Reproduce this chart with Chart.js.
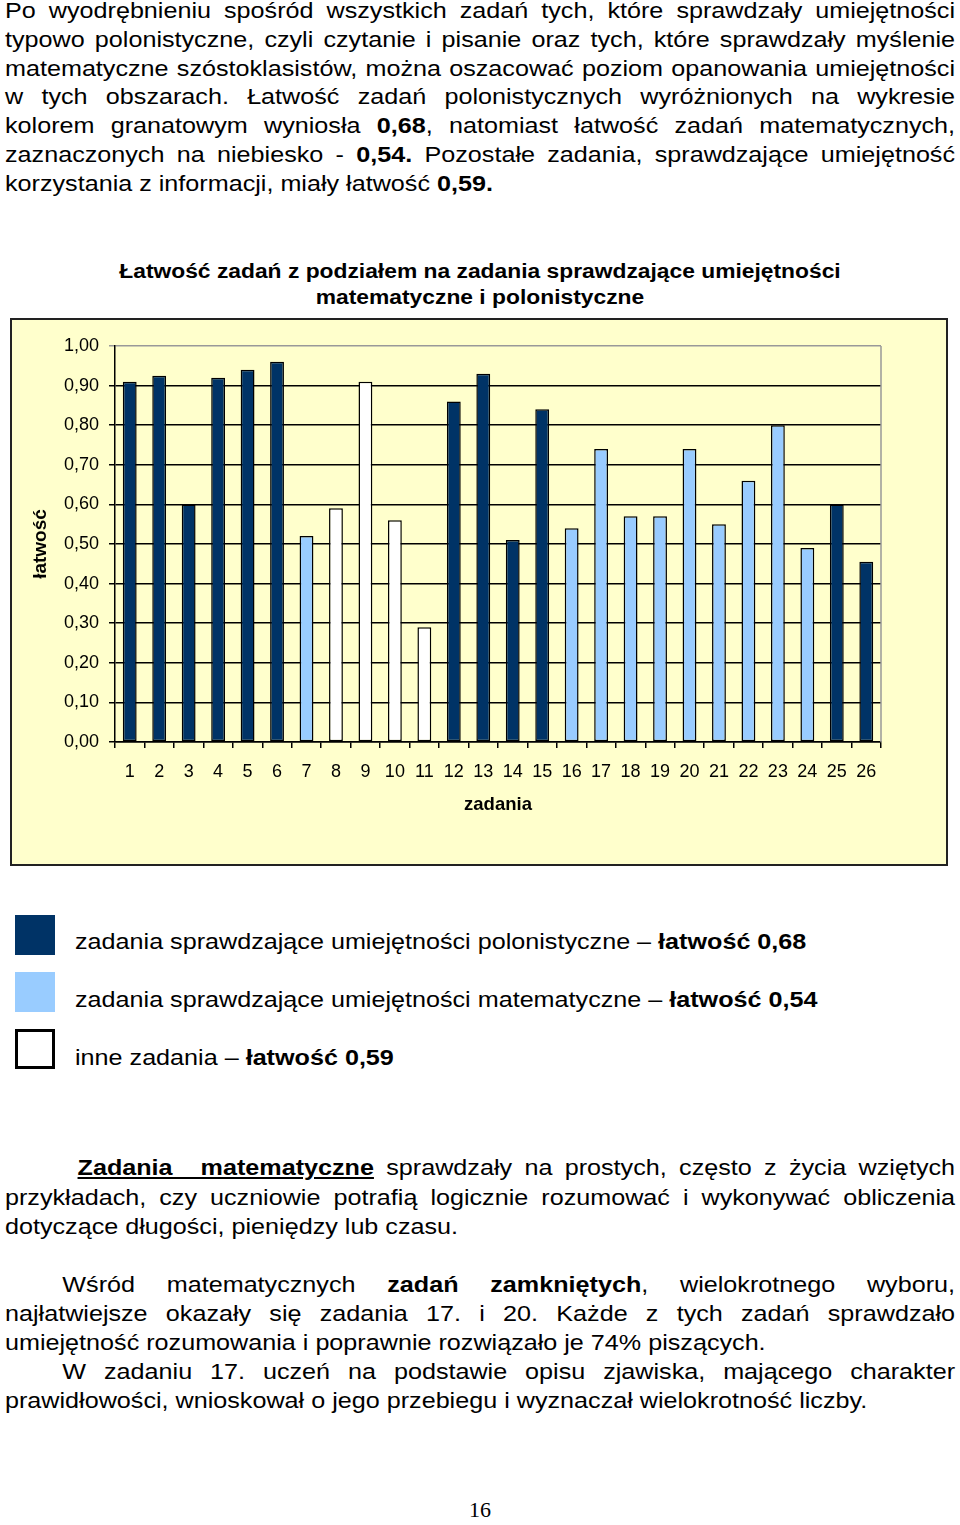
<!DOCTYPE html>
<html lang="pl">
<head>
<meta charset="utf-8">
<title>Łatwość zadań</title>
<script src="https://cdn.jsdelivr.net/npm/chart.js@4.4.1/dist/chart.umd.min.js"></script>
<style>
    html, body {
        margin: 0;
        padding: 0;
        background: #ffffff;
    }

    body {
        position: relative;
        width: 960px;
        height: 1525px;
        overflow: hidden;
        font-family: "Liberation Sans", Arial, sans-serif;
        color: #000000;
    }

    /* tekst w oryginale jest szerszy - rozciągamy w poziomie */
    .line {
        position: absolute;
        left: 5px;
        width: 812px;
        font-size: 21.5px;
        line-height: 29px;
        white-space: nowrap;
        transform: scaleX(1.17);
        transform-origin: 0 0;
    }

    .just {
        text-align: justify;
        text-align-last: justify;
        white-space: normal;
    }

    .title {
        position: absolute;
        left: 0;
        width: 820.5px;
        text-align: center;
        font-weight: bold;
        font-size: 19.5px;
        line-height: 26px;
        transform: scaleX(1.17);
        transform-origin: 0 0;
    }

    #box {
        position: absolute;
        left: 10px;
        top: 318px;
        width: 938px;
        height: 548px;
        box-sizing: border-box;
        border: 2px solid #222222;
        background: #FFFFCC;
    }

    #box canvas {
        display: block;
    }

    .key {
        position: absolute;
        left: 15px;
        width: 40px;
        height: 40px;
        box-sizing: border-box;
    }

    .keytext {
        position: absolute;
        left: 75px;
        font-size: 21.5px;
        line-height: 30px;
        white-space: nowrap;
        transform: scaleX(1.17);
        transform-origin: 0 0;
    }

    .ul {
        display: inline-block;
        text-decoration: underline;
        font-weight: bold;
    }

    #page {
        position: absolute;
        left: 0;
        width: 960px;
        top: 1497px;
        text-align: center;
        font-family: "Liberation Serif", "Times New Roman", serif;
        font-size: 22px;
    }
</style>
</head>
<body>

<div class="line just" style="top:-3px">Po wyodrębnieniu spośród wszystkich zadań tych, które sprawdzały umiejętności</div>
<div class="line just" style="top:26px">typowo polonistyczne, czyli czytanie i pisanie oraz tych, które sprawdzały myślenie</div>
<div class="line just" style="top:55px">matematyczne szóstoklasistów, można oszacować poziom opanowania umiejętności</div>
<div class="line just" style="top:83px">w tych obszarach. Łatwość zadań polonistycznych wyróżnionych na wykresie</div>
<div class="line just" style="top:112px">kolorem granatowym wyniosła <b>0,68</b>, natomiast łatwość zadań matematycznych,</div>
<div class="line just" style="top:141px">zaznaczonych na niebiesko - <b>0,54.</b> Pozostałe zadania, sprawdzające umiejętność</div>
<div class="line" style="top:170px">korzystania z informacji, miały łatwość <b>0,59.</b></div>

<div class="title" style="top:258px">Łatwość zadań z podziałem na zadania sprawdzające umiejętności</div>
<div class="title" style="top:284px">matematyczne i polonistyczne</div>

<div id="box">
    <canvas id="latwoscChart" width="934" height="544"></canvas>
</div>

<div class="key" style="top:915px; background:#003366"></div>
<div class="keytext" style="top:927px">zadania sprawdzające umiejętności polonistyczne – <b>łatwość 0,68</b></div>
<div class="key" style="top:972px; background:#99CCFF"></div>
<div class="keytext" style="top:985px">zadania sprawdzające umiejętności matematyczne – <b>łatwość 0,54</b></div>
<div class="key" style="top:1029px; background:#ffffff; border:3px solid #000000"></div>
<div class="keytext" style="top:1043px">inne zadania – <b>łatwość 0,59</b></div>

<div class="line" style="top:1154px">
    <div class="just" style="margin-left:62px"><span class="ul">Zadania&nbsp;&nbsp;&nbsp;&nbsp;matematyczne</span> sprawdzały na prostych, często z życia wziętych</div>
</div>
<div class="line just" style="top:1184px">przykładach, czy uczniowie potrafią logicznie rozumować i wykonywać obliczenia</div>
<div class="line" style="top:1213px">dotyczące długości, pieniędzy lub czasu.</div>

<div class="line" style="top:1271px">
    <div class="just" style="margin-left:49px">Wśród matematycznych <b>zadań zamkniętych</b>, wielokrotnego wyboru,</div>
</div>
<div class="line just" style="top:1300px">najłatwiejsze okazały się zadania 17. i 20. Każde z tych zadań sprawdzało</div>
<div class="line" style="top:1329px">umiejętność rozumowania i poprawnie rozwiązało je 74% piszących.</div>
<div class="line" style="top:1358px">
    <div class="just" style="margin-left:49px">W zadaniu 17. uczeń na podstawie opisu zjawiska, mającego charakter</div>
</div>
<div class="line" style="top:1387px">prawidłowości, wnioskował o jego przebiegu i wyznaczał wielokrotność liczby.</div>

<div id="page">16</div>

<script>
/*
  Łatwość zadań - wykres słupkowy
  pol  = umiejętności polonistyczne
  mat  = umiejętności matematyczne
  inne = korzystanie z informacji
*/

const zadania = ["1", "2", "3", "4", "5", "6", "7", "8", "9", "10", "11", "12", "13",
    "14", "15", "16", "17", "18", "19", "20", "21", "22", "23", "24", "25", "26"];

const latwosc = [0.91, 0.925, 0.60, 0.92, 0.94, 0.96, 0.52, 0.59, 0.91, 0.56, 0.29, 0.86, 0.93,
    0.51, 0.84, 0.54, 0.74, 0.57, 0.57, 0.74, 0.55, 0.66, 0.80, 0.49, 0.60, 0.455];

const grupa = ["pol", "pol", "pol", "pol", "pol", "pol", "mat", "inne", "inne", "inne", "inne", "pol", "pol",
    "pol", "pol", "mat", "mat", "mat", "mat", "mat", "mat", "mat", "mat", "mat", "pol", "pol"];

const kolory = {
    pol: "#003366",
    mat: "#99CCFF",
    inne: "#FFFFFF"
};

document.addEventListener("DOMContentLoaded", () => {

    initializeLatwoscChart();

});

function initializeLatwoscChart() {

    const canvas = document.getElementById("latwoscChart");

    if (!canvas) {
        return;
    }

    // szara ramka obszaru wykresu (prawa strona)
    const plotFrame = {
        id: "plotFrame",
        beforeDatasetsDraw(chart) {
            const { ctx, chartArea } = chart;
            ctx.save();
            ctx.strokeStyle = "#999999";
            ctx.lineWidth = 1.5;
            ctx.beginPath();
            ctx.moveTo(chartArea.right, chartArea.top);
            ctx.lineTo(chartArea.right, chartArea.bottom);
            ctx.stroke();
            ctx.restore();
        }
    };

    new Chart(canvas, {

        type: "bar",

        data: {
            labels: zadania,
            datasets: [
                {
                    label: "łatwość",
                    data: latwosc,
                    backgroundColor: grupa.map(g => kolory[g]),
                    borderColor: "#000000",
                    borderWidth: 1.5,
                    borderSkipped: false,
                    barPercentage: 0.47,
                    categoryPercentage: 1
                }
            ]
        },

        options: {
            responsive: false,
            animation: false,
            layout: {
                padding: { top: 26, right: 65, bottom: 0, left: 0 }
            },
            plugins: {
                legend: { display: false },
                tooltip: { enabled: false }
            },
            scales: {
                x: {
                    offset: true,
                    grid: {
                        offset: true,
                        drawOnChartArea: false,
                        drawTicks: true,
                        tickLength: 6,
                        color: "#000000",
                        lineWidth: 1.5
                    },
                    border: {
                        display: true,
                        color: "#000000",
                        width: 1.5
                    },
                    ticks: {
                        color: "#000000",
                        padding: 13,
                        maxRotation: 0,
                        autoSkip: false,
                        font: { family: "Liberation Sans", size: 18 }
                    },
                    title: {
                        display: true,
                        text: "zadania",
                        color: "#000000",
                        padding: { top: 0, bottom: 48 },
                        font: { family: "Liberation Sans", size: 18.5, weight: "bold" }
                    },
                    afterFit(scale) {
                        scale.height = 122;
                    }
                },
                y: {
                    min: 0,
                    max: 1,
                    ticks: {
                        stepSize: 0.1,
                        color: "#000000",
                        padding: 10,
                        font: { family: "Liberation Sans", size: 18 },
                        callback: value => value.toFixed(2).replace(".", ",")
                    },
                    grid: {
                        color: ctx => (ctx.tick && ctx.tick.value === 1 ? "#999999" : "#000000"),
                        lineWidth: 1.5,
                        tickLength: 6,
                        drawTicks: true
                    },
                    border: {
                        display: true,
                        color: "#000000",
                        width: 1.5
                    },
                    title: {
                        display: true,
                        text: "łatwość",
                        color: "#000000",
                        padding: { top: 17, bottom: 0 },
                        font: { family: "Liberation Sans", size: 19, weight: "bold" }
                    },
                    afterFit(scale) {
                        scale.width = 103;
                    }
                }
            }
        },

        plugins: [plotFrame]

    });

}
</script>
</body>
</html>
